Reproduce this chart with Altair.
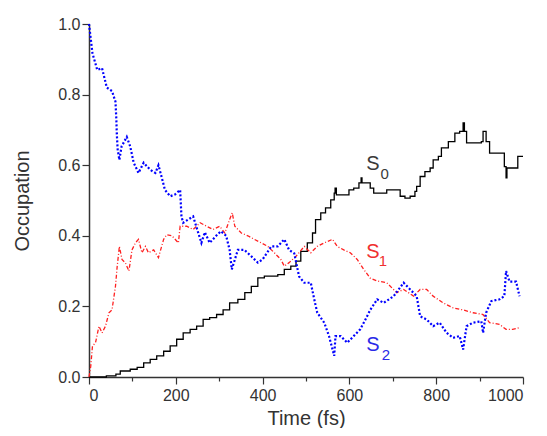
import altair as alt
import pandas as pd

# S0 (black, solid, step)
s0_t = [0, 40, 62, 72, 95, 111, 126, 141, 156, 172,
        187, 202, 217, 233, 248, 263, 278, 294, 309, 324,
        343, 359, 374, 389, 404, 435, 450, 465, 477, 488,
        503, 515, 522, 534, 545, 557, 565, 567, 570, 599,
        610, 622, 627, 629, 648, 656, 686, 717, 728, 740,
        751, 755, 763, 774, 786, 793, 805, 812, 828, 843,
        854, 862, 865, 870, 904, 908, 915, 923, 957, 961,
        963, 988, 1000]
s0_v = [0.0, 0.003, 0.008, 0.017, 0.022, 0.027, 0.04, 0.05, 0.06, 0.073,
        0.088, 0.107, 0.125, 0.135, 0.144, 0.163, 0.168, 0.177, 0.19, 0.21,
        0.22, 0.239, 0.257, 0.281, 0.286, 0.29, 0.305, 0.314, 0.328, 0.356,
        0.38, 0.408, 0.446, 0.465, 0.479, 0.502, 0.521, 0.535, 0.516, 0.53,
        0.535, 0.55, 0.564, 0.55, 0.535, 0.521, 0.53, 0.512, 0.507, 0.512,
        0.526, 0.54, 0.568, 0.582, 0.592, 0.615, 0.625, 0.649, 0.667, 0.691,
        0.696, 0.72, 0.696, 0.663, 0.667, 0.696, 0.667, 0.634, 0.596, 0.564,
        0.592, 0.625, 0.625]

# S1 (red, dash-dot)
s1_t = [0, 4, 8, 15, 23, 30, 38, 46, 53, 61,
        65, 70, 76, 84, 92, 99, 107, 114, 122, 130,
        137, 149, 160, 172, 179, 191, 206, 210, 225, 240,
        256, 271, 286, 301, 313, 324, 330, 336, 351, 366,
        381, 397, 412, 427, 442, 450, 461, 477, 496, 511,
        526, 542, 561, 572, 587, 602, 618, 633, 648, 664,
        686, 709, 725, 748, 763, 778, 793, 816, 839, 862,
        885, 908, 923, 946, 961, 976, 992]
s1_v = [0.0, 0.03, 0.088, 0.097, 0.144, 0.125, 0.144, 0.182, 0.19, 0.257,
        0.314, 0.37, 0.333, 0.323, 0.30, 0.36, 0.38, 0.39, 0.352, 0.37,
        0.352, 0.36, 0.338, 0.39, 0.403, 0.40, 0.38, 0.427, 0.427, 0.418,
        0.437, 0.427, 0.418, 0.427, 0.408, 0.446, 0.465, 0.427, 0.408, 0.40,
        0.39, 0.38, 0.37, 0.352, 0.333, 0.314, 0.324, 0.342, 0.37, 0.352,
        0.37, 0.38, 0.39, 0.37, 0.36, 0.352, 0.333, 0.305, 0.28, 0.272,
        0.267, 0.239, 0.248, 0.229, 0.248, 0.248, 0.229, 0.21, 0.196, 0.19,
        0.182, 0.177, 0.154, 0.149, 0.135, 0.135, 0.14]

# S2 (blue, dotted)
s2_t = [0, 8, 19, 30, 41, 53, 61, 63, 64, 66,
        70, 75, 87, 95, 103, 114, 126, 141, 153, 160,
        167, 175, 187, 198, 210, 213, 217, 240, 247, 259,
        267, 278, 293, 304, 316, 324, 329, 343, 358, 374,
        389, 400, 420, 435, 450, 461, 473, 484, 496, 511,
        519, 526, 542, 553, 565, 568, 580, 595, 610, 625,
        637, 648, 664, 679, 702, 725, 740, 755, 763, 778,
        793, 808, 824, 839, 854, 862, 870, 885, 904, 908,
        915, 927, 946, 957, 961, 969, 984, 992]
s2_v = [1.0, 0.917, 0.87, 0.875, 0.82, 0.81, 0.78, 0.73, 0.69, 0.645,
        0.615, 0.653, 0.68, 0.653, 0.607, 0.578, 0.607, 0.587, 0.578, 0.60,
        0.568, 0.53, 0.512, 0.517, 0.53, 0.455, 0.437, 0.455, 0.427, 0.38,
        0.41, 0.38, 0.40, 0.413, 0.40, 0.36, 0.305, 0.36, 0.36, 0.342,
        0.324, 0.333, 0.37, 0.37, 0.39, 0.36, 0.35, 0.285, 0.267, 0.267,
        0.22, 0.182, 0.154, 0.116, 0.06, 0.116, 0.116, 0.097, 0.116, 0.135,
        0.163, 0.19, 0.22, 0.21, 0.229, 0.267, 0.248, 0.229, 0.172, 0.163,
        0.144, 0.154, 0.125, 0.111, 0.116, 0.078, 0.144, 0.154, 0.158, 0.125,
        0.182, 0.215, 0.22, 0.229, 0.30, 0.27, 0.27, 0.229]

# State labels ("S" plus subscript digit)
lab_text = ["S", "0", "S", "1", "S", "2"]
lab_t = [654, 681, 654, 677, 654, 684]
lab_v = [0.603, 0.576, 0.355, 0.33, 0.092, 0.061]
lab_size = [20, 15, 20, 15, 20, 15]
lab_color = ["#3a3a3a", "#3a3a3a", "#f03030", "#f03030", "#2a2ae8", "#2a2ae8"]

FONT = "Liberation Sans"
AX = "#333333"

df0 = pd.DataFrame({"t": s0_t, "v": s0_v})
df1 = pd.DataFrame({"t": s1_t, "v": s1_v})
df2 = pd.DataFrame({"t": s2_t, "v": s2_v})
dfl = pd.DataFrame({"t": lab_t, "v": lab_v, "text": lab_text,
                    "size": lab_size, "color": lab_color})

xscale = alt.Scale(domain=[0, 1000], nice=False)
yscale = alt.Scale(domain=[0, 1.0], nice=False, zero=False)

XMAJ = "datum.value % 200 == 0"
YMAJ = "round(datum.value * 10) % 2 == 0"

xaxis = alt.Axis(
    values=list(range(0, 1001, 100)),
    labelExpr=f"{XMAJ} ? datum.label : ''",
    format="d",
    tickSize={"condition": {"test": XMAJ, "value": 7}, "value": 4},
    grid=False, title="Time (fs)",
    domainColor=AX, tickColor=AX, labelColor=AX, titleColor=AX,
    labelFont=FONT, titleFont=FONT, labelFontSize=16, titleFontSize=20,
    titleFontWeight="normal", labelPadding=3,
    titleBaseline="alphabetic", titleY=47,
    domainWidth=1.5, tickWidth=1.2,
)
yaxis = alt.Axis(
    values=[round(i * 0.1, 1) for i in range(11)],
    labelExpr=f"{YMAJ} ? datum.label : ''",
    format=".1f",
    tickSize={"condition": {"test": YMAJ, "value": 7}, "value": 4},
    grid=False, title="Occupation",
    domainColor=AX, tickColor=AX, labelColor=AX, titleColor=AX,
    labelFont=FONT, titleFont=FONT, labelFontSize=16, titleFontSize=20,
    titleFontWeight="normal", labelPadding=2, titlePadding=25,
    domainWidth=1.5, tickWidth=1.2,
)

l0 = alt.Chart(df0).mark_line(color="black", strokeWidth=1.3,
                              interpolate="step-after").encode(
    x=alt.X("t:Q", scale=xscale, axis=xaxis),
    y=alt.Y("v:Q", scale=yscale, axis=yaxis),
)
l1 = alt.Chart(df1).mark_line(color="#ff2020", strokeWidth=1.3,
                              strokeDash=[4, 2, 1, 2]).encode(
    x=alt.X("t:Q", scale=xscale), y=alt.Y("v:Q", scale=yscale))
l2 = alt.Chart(df2).mark_line(color="#0000ff", strokeWidth=2.2,
                              strokeDash=[2, 2]).encode(
    x=alt.X("t:Q", scale=xscale), y=alt.Y("v:Q", scale=yscale))

labels = alt.Chart(dfl).mark_text(font=FONT, align="center",
                                  baseline="middle").encode(
    x=alt.X("t:Q", scale=xscale), y=alt.Y("v:Q", scale=yscale),
    text="text:N",
    size=alt.Size("size:Q", scale=None, legend=None),
    color=alt.Color("color:N", scale=None, legend=None),
)

chart = alt.layer(l0, l1, l2, labels).properties(
    width=434, height=353,
    autosize=alt.AutoSizeParams(type="none"),
    padding={"left": 81, "top": 16, "right": 16, "bottom": 51},
).configure_view(strokeWidth=0)

chart.save("out.html", embed_options={"renderer": "svg", "actions": False})
